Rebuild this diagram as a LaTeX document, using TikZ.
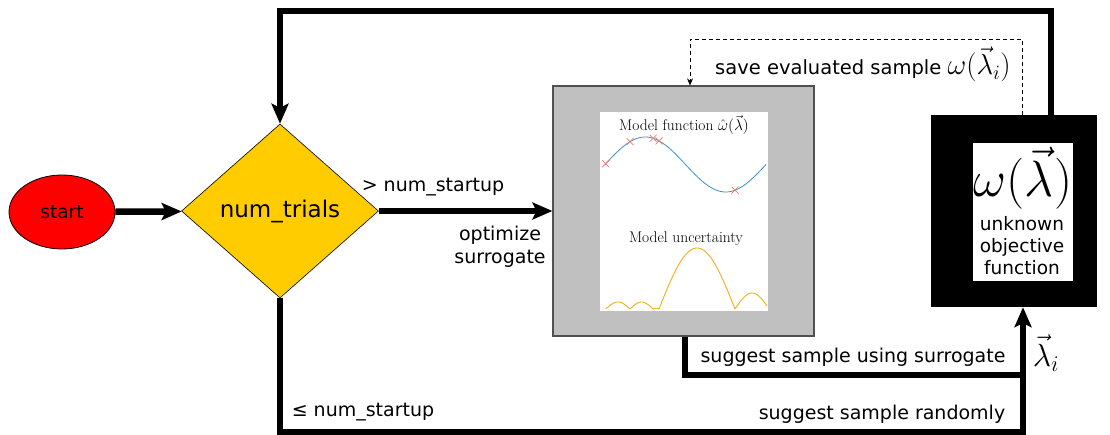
\RequirePackage{fix-cm}
\documentclass[tikz,border=0pt]{standalone}
\usepackage{fontspec}
\setmainfont{DejaVu Sans}
\newfontfamily\plotfont{Latin Modern Roman}
\usetikzlibrary{shapes.geometric,arrows.meta}

\definecolor{startred}{HTML}{FF0000}
\definecolor{decision}{HTML}{FFCC00}
\definecolor{surrgray}{HTML}{C0C0C0}
\definecolor{surredge}{HTML}{505050}
\definecolor{fitblue}{HTML}{3C8FD0}
\definecolor{sampred}{HTML}{E8826A}
\definecolor{uncyellow}{HTML}{EDB120}

\tikzset{
  flow/.style={line width=6.5pt, -{Stealth[length=20pt,width=17pt,inset=4pt]}},
  flowline/.style={line width=6.5pt},
  savearrow/.style={line width=0.8pt, dash pattern=on 4pt off 3pt, -{Stealth[length=7pt,width=6pt]}},
  lbl/.style={font=\fontsize{19}{23}\selectfont, inner sep=0pt},
  plottitle/.style={font=\plotfont\fontsize{15.5}{17}\selectfont, inner sep=0pt},
  startnode/.style={ellipse, draw=black, line width=0.8pt, fill=startred, minimum width=106pt, minimum height=74pt, inner sep=0pt, font=\fontsize{18.5}{21}\selectfont},
  decisionnode/.style={diamond, draw=black, line width=0.6pt, fill=decision, minimum width=197pt, minimum height=174pt, inner sep=0pt, font=\fontsize{23}{26}\selectfont},
  surrbox/.style={rectangle, draw=surredge, line width=1.2pt, fill=surrgray, minimum width=261pt, minimum height=250pt, inner sep=0pt},
  objbox/.style={rectangle, fill=black, minimum width=166pt, minimum height=192pt, inner sep=0pt},
  whiteface/.style={rectangle, fill=white, inner sep=0pt},
}

\begin{document}
\begin{tikzpicture}[x=1pt,y=-1pt]
\useasboundingbox (0,0) rectangle (1110,435);

% main blocks
\node[startnode] (start) at (62,212) {start};
\node[decisionnode] (trials) at (280,211) {num\_trials};
\node[surrbox] (surr) at (683.5,211) {};
\node[whiteface, minimum width=168pt, minimum height=199pt] (chart) at (684,211.5) {};
\node[objbox] (obj) at (1014,211) {};
\node[whiteface, minimum width=100pt, minimum height=138pt] (objface) at (1023,212) {};

% surrogate model plots
\node[plottitle] (fittitle) at (684,125) {Model function $\hat{\omega}(\vec{\lambda})$};
\node[plottitle] (unctitle) at (686,239) {Model uncertainty};
\begin{scope}
  \clip (chart.north west) rectangle (chart.south east);
  \draw[fitblue, line width=0.8pt] plot[domain=605:766, samples=90, smooth]
    (\x, {164.5 - 27.5*sin((\x-605)*2.236)});
  \foreach \px in {605.7, 630, 653, 659, 735} {
    \pgfmathsetmacro{\py}{164.5 - 27.5*sin((\px-605)*2.236)}
    \draw[sampred, line width=0.7pt] (\px-3.5,\py-3.5) -- (\px+3.5,\py+3.5)
      (\px-3.5,\py+3.5) -- (\px+3.5,\py-3.5);
  }
  \draw[uncyellow, line width=0.9pt]
    plot[domain=605.7:630, samples=25, smooth] (\x, {309 - 7*sin((\x-605.7)/24.3*180)})
    plot[domain=630:653, samples=25, smooth] (\x, {309 - 7*sin((\x-630)/23*180)})
    plot[domain=653:659, samples=6] (\x, {309 - 0.8*sin((\x-653)/6*180)})
    plot[domain=659:735, samples=50, smooth] (\x, {309 - 61*sin((\x-659)/76*180)})
    plot[domain=735:767, samples=30, smooth] (\x, {309 - 16*sin((\x-735)/34*180)});
\end{scope}

% objective function
\node[inner sep=0pt] (omega) at (1023,178) {\fontsize{51}{51}\selectfont$\omega(\vec{\lambda})$};
\node[align=center, font=\fontsize{18.5}{22}\selectfont, inner sep=0pt] (objtext) at (1022,246) {unknown\\objective\\function};

% connectors
\coordinate (looptop) at (280,11);
\coordinate (savecorner) at (690,39);
\coordinate (randcorner) at (1023,432);
\coordinate (surrjoin) at (1023,375);

\draw[flow] (start) -- (trials);
\draw[flow] (trials.east) -- (surr.west);
\draw[flow] ([xshift=37pt]obj.north) |- (looptop) -- (trials.north);
\draw[savearrow] ([xshift=8pt]obj.north) |- (savecorner) -- ([xshift=6.5pt]surr.north);
\draw[flowline] ([xshift=1.5pt]surr.south) |- (surrjoin);
\draw[flow] (trials.south) |- (randcorner) -- ([xshift=9pt]obj.south);

% labels
\node[lbl] (gtlabel) at (433,187) {> num\_startup};
\node[lbl, align=center] (optlabel) at (500,247) {optimize\\surrogate};
\node[lbl, anchor=base west, font=\fontsize{19.5}{23}\selectfont] (savelabel) at (715,75) {save evaluated sample {\fontsize{29}{29}\selectfont$\omega(\vec{\lambda}_i)$}};
\node[lbl] (surrlabel) at (853,357) {suggest sample using surrogate};
\node[lbl] (randlabel) at (882,414) {suggest sample randomly};
\node[lbl] (lelabel) at (363,412) {≤ num\_startup};
\node[inner sep=0pt] (lambdalabel) at (1046,353) {\fontsize{32}{32}\selectfont$\vec{\lambda}_i$};
\end{tikzpicture}
\end{document}
